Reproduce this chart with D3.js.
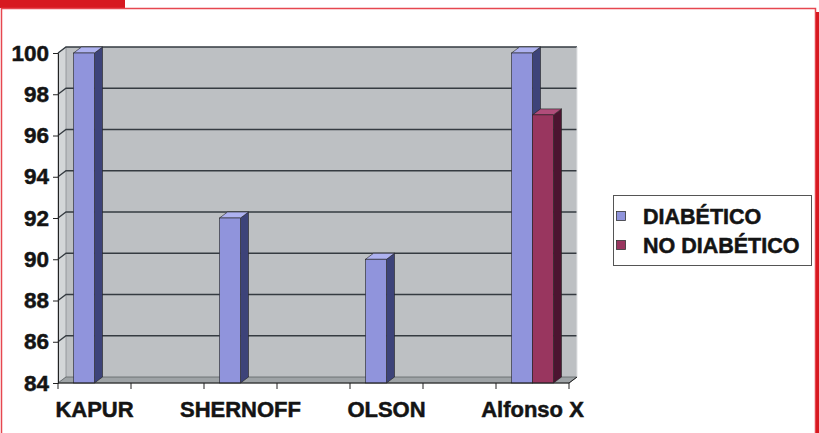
<!DOCTYPE html>
<html>
<head>
<meta charset="utf-8">
<script src="https://cdn.jsdelivr.net/npm/d3@7"></script>
<style>
  body { margin: 0; background: #fff; }
  svg { display: block; font-family: "Liberation Sans", Arial, sans-serif; font-weight: bold; }
</style>
</head>
<body>
<svg id="chart" width="819" height="433"></svg>
<script>
// data
const categories = ["KAPUR", "SHERNOFF", "OLSON", "Alfonso X"]
const seriesNames = ["DIABÉTICO", "NO DIABÉTICO"]
const diabetico = [100, 92, 90, 100]
const noDiabetico = [null, null, null, 97]
const yTicks = [84, 86, 88, 90, 92, 94, 96, 98, 100]

const colors = [
    {front: "#9094dc", side: "#3d4379", top: "#aeb2f0"},
    {front: "#99365f", side: "#4c1430", top: "#b04d7a"}
]

const svg = d3.select("#chart")

// red frame of the page
svg.append("rect").attr("x", 0).attr("y", 0).attr("width", 125).attr("height", 8).attr("fill", "#d71920")
svg.append("path")
    .attr("d", "M1.5,433V8.5H815.5V433")
    .attr("fill", "none").attr("stroke", "#e64750").attr("stroke-width", 1.5)
svg.append("rect").attr("x", 816).attr("y", 12).attr("width", 3).attr("height", 421).attr("fill", "#d71920")

// plot geometry
const plotLeft = 58, plotRight = 569, plotTop = 53, plotBottom = 383
const dx = 8, dy = -6
const barW = 21

const y = d3.scaleLinear().domain([84, 100]).range([plotBottom, plotTop])
const x = d3.scalePoint().domain(categories).range([94.5, 532.5])
const quarter = x.step() / 4

const plot = svg.append("g")

// back wall
plot.append("rect")
    .attr("x", plotLeft + dx).attr("y", plotTop + dy)
    .attr("width", plotRight - plotLeft).attr("height", plotBottom - plotTop)
    .attr("fill", "#bdc0c3")

// left side wall
plot.append("path")
    .attr("d", `M${plotLeft},${plotTop}L${plotLeft + dx},${plotTop + dy}L${plotLeft + dx},${plotBottom + dy}L${plotLeft},${plotBottom}Z`)
    .attr("fill", "#d3d6d8").attr("stroke", "#8a8e92").attr("stroke-width", 0.8)

// gridlines
plot.selectAll("path.grid")
    .data(yTicks.slice(1))
    .enter()
    .append("path")
    .classed("grid", true)
    .attr("d", v => `M${plotLeft},${y(v)}L${plotLeft + dx},${y(v) + dy}H${plotRight + dx}`)
    .attr("fill", "none").attr("stroke", "#353b41").attr("stroke-width", 1.3)

// floor
plot.append("path")
    .attr("d", `M${plotLeft},${plotBottom}L${plotLeft + dx},${plotBottom + dy}H${plotRight + dx}L${plotRight},${plotBottom}Z`)
    .attr("fill", "#9ea3a6").attr("stroke", "#5d6266").attr("stroke-width", 0.8)

// right edge of wall
plot.append("path")
    .attr("d", `M${plotRight + dx},${plotTop + dy}V${plotBottom + dy}`)
    .attr("stroke", "#e0e2e4").attr("stroke-width", 1)

// bars
const bars = []
categories.forEach((c, i) => {
    [diabetico[i], noDiabetico[i]].forEach((v, s) => {
        if (v !== null) bars.push({cat: c, series: s, value: v})
    })
})

const barG = plot.selectAll("g.bar")
    .data(bars)
    .enter()
    .append("g")
    .classed("bar", true)

const bx = d => x(d.cat) + (d.series - 1) * barW

barG.append("path")
    .attr("d", d => `M${bx(d) + barW},${y(d.value)}L${bx(d) + barW + dx},${y(d.value) + dy}V${plotBottom + dy}L${bx(d) + barW},${plotBottom}Z`)
    .attr("fill", d => colors[d.series].side)
    .attr("stroke", "#222").attr("stroke-width", 0.6)
barG.append("path")
    .attr("d", d => `M${bx(d)},${y(d.value)}L${bx(d) + dx},${y(d.value) + dy}H${bx(d) + barW + dx}L${bx(d) + barW},${y(d.value)}Z`)
    .attr("fill", d => colors[d.series].top)
    .attr("stroke", "#222").attr("stroke-width", 0.6)
barG.append("rect")
    .attr("x", bx).attr("y", d => y(d.value))
    .attr("width", barW).attr("height", d => plotBottom - y(d.value))
    .attr("fill", d => colors[d.series].front)
    .attr("stroke", "#222").attr("stroke-width", 0.6)

// heavy text like the scanned original
const heavy = sel => sel
    .attr("fill", "#141414")
    .attr("stroke", "#141414")
    .attr("stroke-width", 0.5)

// y axis
const yAxis = svg.append("g")
    .attr("transform", `translate(${plotLeft},0)`)
    .call(d3.axisLeft(y).tickValues(yTicks).tickSize(5).tickPadding(4))
yAxis.select(".domain").attr("stroke", "#222")
yAxis.selectAll(".tick line").attr("stroke", "#222")
yAxis.selectAll("text")
    .attr("font-size", 22.5).attr("font-weight", "bold")
    .attr("font-family", "Liberation Sans, Arial, sans-serif")
    .call(heavy)

// x axis with two ticks per category
const xTicks = categories.flatMap(c => [x(c) - quarter, x(c) + quarter])
const xAxis = svg.append("g")
xAxis.append("path")
    .attr("d", `M${plotLeft},${plotBottom}H${plotRight}L${plotRight + dx},${plotBottom + dy}`)
    .attr("stroke", "#222").attr("fill", "none")
xAxis.selectAll("line")
    .data(xTicks)
    .enter()
    .append("line")
    .attr("x1", d => d).attr("x2", d => d)
    .attr("y1", plotBottom).attr("y2", plotBottom + 6)
    .attr("stroke", "#222")
xAxis.selectAll("text")
    .data(categories)
    .enter()
    .append("text")
    .attr("x", d => x(d))
    .attr("y", 417)
    .attr("text-anchor", "middle")
    .attr("font-size", 22)
    .text(d => d)
    .call(heavy)

// legend
const legend = svg.append("g")
legend.append("rect")
    .attr("x", 613.5).attr("y", 195.5).attr("width", 198).attr("height", 70)
    .attr("fill", "#fff").attr("stroke", "#555").attr("stroke-width", 1)
const item = legend.selectAll("g.item")
    .data(seriesNames)
    .enter()
    .append("g")
    .classed("item", true)
    .attr("transform", (d, i) => `translate(0,${i * 29})`)
item.append("rect")
    .attr("x", 616.5).attr("y", 211.5).attr("width", 9).attr("height", 9)
    .attr("fill", (d, i) => colors[i].front).attr("stroke", "#333").attr("stroke-width", 0.8)
item.append("text")
    .attr("x", 643).attr("y", 223.5)
    .attr("font-size", 21.5)
    .text(d => d)
    .call(heavy)
</script>
</body>
</html>
